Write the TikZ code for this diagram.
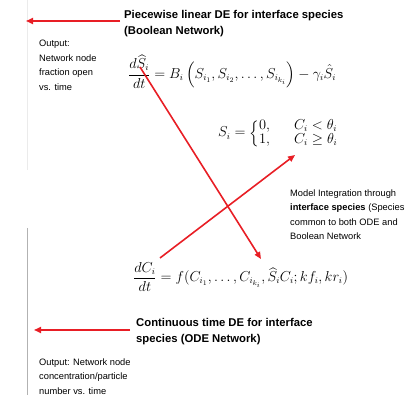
\documentclass[tikz,border=0pt]{standalone}
\usepackage{amsmath}
\usepackage[no-math]{fontspec}
\setmainfont{Liberation Sans}
\usetikzlibrary{arrows.meta}
\definecolor{arrowred}{RGB}{232,30,37}

\begin{document}
\begin{tikzpicture}[x=1pt, y=-1pt,
    >={Triangle[length=7pt, width=6pt]},
    redarrow/.style={->, draw=arrowred, line width=1.6pt},
    heading/.style={font=\fontsize{11.3}{16}\selectfont\bfseries, align=left,
                    anchor=base west, inner sep=0pt},
    note/.style={font=\fontsize{9.3}{14.5}\selectfont, align=left,
                 anchor=base west, inner sep=0pt},
    eqn/.style={font=\fontsize{13.4}{16}\selectfont, anchor=base west, inner sep=0pt},
  ]
    \useasboundingbox (0,0) rectangle (408,395);

    % --- faint margin rule ---
    \draw[black!8, line width=0.6pt] (27,0) -- (27,170);
    \draw[black!30, line width=0.6pt] (27,228) -- (27,395);

    % --- Boolean network part ---
    \node[heading] (topHead) at (124,34.5)
      {Piecewise linear DE for interface species\\(Boolean Network)};
    \node[note] (outBool) at (39,90.5)
      {Output:\\Network node\\fraction open\\vs. time};
    \node[eqn] (eqS) at (128,78.5)
      {$\displaystyle\frac{d\widehat{S_i}}{dt}
        = B_i\left(S_{i_1},S_{i_2},\dots,S_{i_{k_i}}\right)-\gamma_i\hat{S}_i$};
    \node[eqn] (eqSwitch) at (218,137)
      {$S_i=\left\{\renewcommand{\arraystretch}{0.82}%
        \begin{array}{@{}l@{\hspace{24pt}}l@{}}0, & C_i<\theta_i\\ 1, & C_i\geq\theta_i\end{array}\right.$};

    % --- integration note ---
    \node[note] (integ) at (290,240)
      {Model Integration through\\\textbf{interface species} (Species\\common to both ODE and\\Boolean Network};

    % --- ODE part ---
    \node[eqn] (eqC) at (133,281.8)
      {$\displaystyle\frac{dC_i}{dt}
        = f(C_{i_1},\dots,C_{i_{k_i}},\widehat{S_i}C_i;kf_i,kr_i)$};
    \node[heading] (botHead) at (136,343)
      {Continuous time DE for interface\\species (ODE Network)};
    \node[note] (outODE) at (39,394.5)
      {Output: Network node\\concentration/particle\\number vs. time};

    % --- connectors ---
    \coordinate (outS) at (26,21);
    \coordinate (outC) at (34,330);
    \draw[redarrow] (outS -| topHead.west) ++(-4,0) -- (outS);
    \draw[redarrow] (outC -| botHead.west) ++(-6,0) -- (outC);

    \coordinate (hatS) at (140,67);
    \coordinate (hatSC) at (261,259);
    \coordinate (fracC) at (160,258);
    \coordinate (theta) at (295,155);
    \draw[redarrow] (hatS) -- (hatSC);
    \draw[redarrow] (fracC) -- (theta);
\end{tikzpicture}
\end{document}
